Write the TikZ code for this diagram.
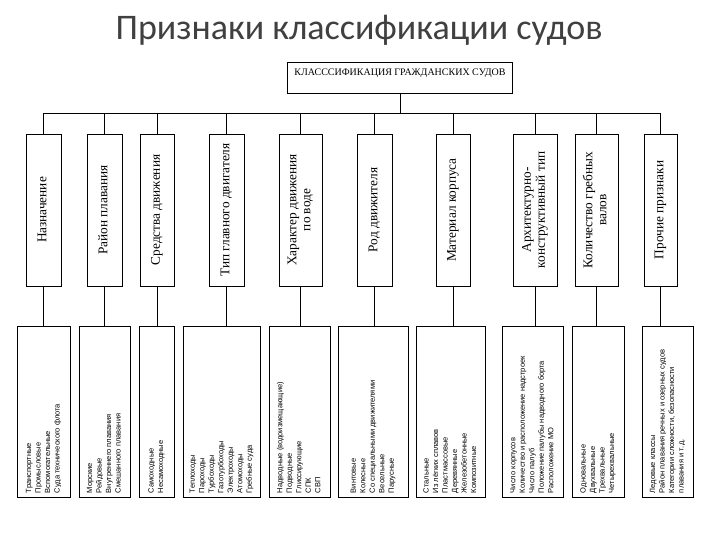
\documentclass[tikz,border=0pt]{standalone}
\usepackage{fontspec}
\usepackage{graphicx}
\setmainfont{Liberation Serif}
\newfontfamily\sansfnt{Liberation Sans}
\newfontfamily\titlefnt{Carlito}
\usetikzlibrary{positioning,calc}

\newcommand{\vtxt}[1]{\rotatebox{90}{\begin{tabular}{@{}c@{}}#1\end{tabular}}}
\newcommand{\vlist}[1]{\rotatebox{90}{\makebox[163pt][l]{\begin{tabular}{@{}l@{}}#1\end{tabular}}}}

\begin{document}
\begin{tikzpicture}[
  x=1pt, y=-1pt,
  topbox/.style={rectangle, draw=black, line width=0.8pt,
                 minimum width=225pt, inner xsep=4pt, inner ysep=4pt,
                 text height=10pt, text depth=13pt,
                 font=\fontsize{10}{11}\selectfont},
  ubox/.style={rectangle, draw=black, line width=0.8pt,
               minimum height=152pt, inner sep=0pt,
               font=\fontsize{13.3}{14}\selectfont},
  lbox/.style={rectangle, draw=black, line width=0.8pt,
               minimum height=171pt, inner sep=0pt,
               font=\sansfnt\fontsize{7.5}{9.5}\selectfont},
  conn/.style={line width=0.7pt}
]
\useasboundingbox (0,0) rectangle (720,540);

\node[font=\titlefnt\fontsize{36}{40}\selectfont, text=black!75] (title) at (359,30)
  {Признаки классификации судов};

\node[topbox] (cls) at (400,77.5) {КЛАСССИФИКАЦИЯ ГРАЖДАНСКИХ СУДОВ};

\node[ubox, minimum width=35pt] (up1)  at (43.5,210)  {\vtxt{Назначение}};
\node[ubox, minimum width=35pt] (up2)  at (104.5,210) {\vtxt{Район плавания}};
\node[ubox, minimum width=34pt] (up3)  at (157,210)   {\vtxt{Средства движения}};
\node[ubox, minimum width=35pt] (up4)  at (226.5,210) {\vtxt{Тип главного двигателя}};
\node[ubox, minimum width=43pt] (up5)  at (300.5,210) {\vtxt{Характер движения\\по воде}};
\node[ubox, minimum width=35pt] (up6)  at (374.5,210) {\vtxt{Род движителя}};
\node[ubox, minimum width=34pt] (up7)  at (453,210)   {\vtxt{Материал корпуса}};
\node[ubox, minimum width=44pt] (up8)  at (535,210)   {\vtxt{Архитектурно-\\конструктивный тип}};
\node[ubox, minimum width=43pt] (up9)  at (596.5,210) {\vtxt{Количество гребных\\валов}};
\node[ubox, minimum width=33pt] (up10) at (660.5,210) {\vtxt{Прочие признаки}};

\node[lbox, minimum width=53pt] (low1) at (43.5,411.5)
  {\vlist{Транспортные\\Промысловые\\Вспомогательные\\Суда технического флота}};
\node[lbox, minimum width=51pt] (low2) at (104.5,411.5)
  {\vlist{Морские\\Рейдовые\\Внутреннего плавания\\Смешанного плавания}};
\node[lbox, minimum width=35pt] (low3) at (156.5,411.5)
  {\vlist{Самоходные\\Несамоходные}};
\node[lbox, minimum width=77pt] (low4) at (221.5,411.5)
  {\vlist{Теплоходы\\Пароходы\\Турбоходы\\Газотурбоходы\\Электроходы\\Атомоходы\\Гребные суда}};
\node[lbox, minimum width=61pt] (low5) at (299.5,411.5)
  {\vlist{Надводные (водоизмещающие)\\Подводные\\Глиссирующие\\СПК\\СВП}};
\node[lbox, minimum width=70pt] (low6) at (373,411.5)
  {\vlist{Винтовые\\Колесные\\Со специальными движителями\\Весельные\\Парусные}};
\node[lbox, minimum width=69pt] (low7) at (450.5,411.5)
  {\vlist{Стальные\\Из лёгких сплавов\\Пластмассовые\\Деревянные\\Железобетонные\\Композитные}};
\node[lbox, minimum width=61pt] (low8) at (532.5,411.5)
  {\vlist{Число корпусов\\Количество и расположение надстроек\\Число палуб\\Положение палубы надводного борта\\Расположение МО}};
\node[lbox, minimum width=52pt] (low9) at (598,411.5)
  {\vlist{Одновальные\\Двухвальные\\Трехвальные\\Четырехвальные}};
\node[lbox, minimum width=51pt] (low10) at (667.5,411.5)
  {\vlist{Ледовые классы\\Район плавания речных и озерных судов\\Категории сложности, безопасности\\плавания и т.\,д.}};

\draw[conn] (cls.south) -- ++(0,20) coordinate (bus);
\foreach \i in {1,...,10}{
  \draw[conn] (up\i.north) |- (bus);
  \draw[conn] (up\i.south) -- (up\i.south |- low\i.north);
}
\end{tikzpicture}
\end{document}
